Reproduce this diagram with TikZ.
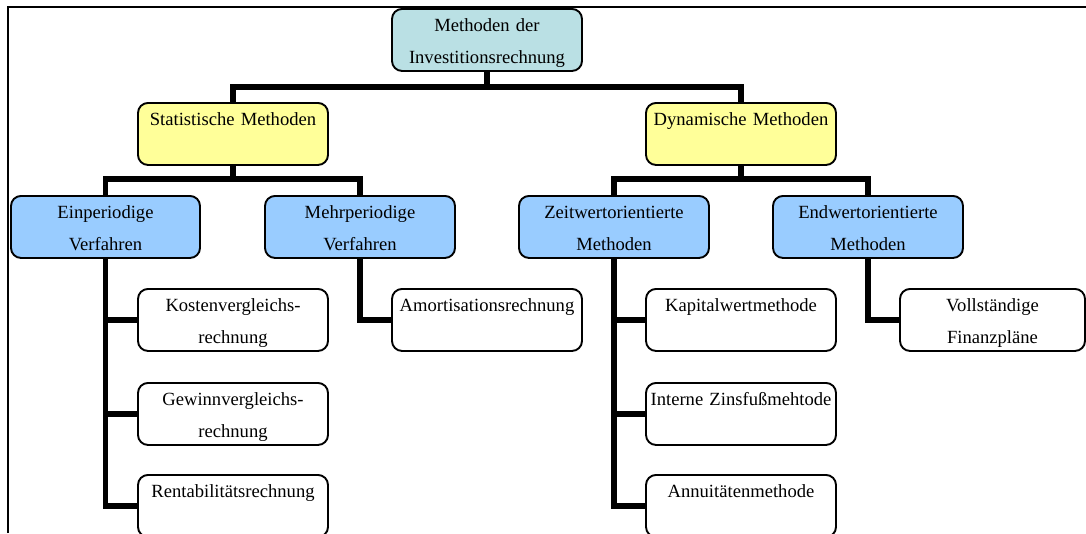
\documentclass[tikz,border=0pt]{standalone}
\usepackage{fontspec}
\setmainfont{Liberation Serif}
\usetikzlibrary{backgrounds}
\definecolor{rootfill}{RGB}{186,224,228}
\definecolor{yel}{RGB}{255,255,153}
\definecolor{blu}{RGB}{153,204,255}
\newcommand{\mystrut}{\rule[-5pt]{0pt}{25pt}}
\begin{document}
\begin{tikzpicture}[x=1pt,y=-1pt,
  box/.style={draw=black, line width=1.9pt, rounded corners=10pt, inner sep=0pt,
    minimum height=62pt, text width=190pt, align=center, anchor=north,
    font=\fontsize{18.6}{32}\selectfont},
  conn/.style={line width=5.8pt, line join=miter},
  frame/.style={line width=1.3pt}]
\useasboundingbox (0,0) rectangle (1086,533);

\node[box, fill=rootfill] (root) at (487,8) {\mystrut Methoden der\\\mystrut Investitionsrechnung};
\node[box, fill=yel] (stat) at (233,102) {\mystrut Statistische Methoden\\\mystrut};
\node[box, fill=yel] (dyn) at (741,102) {\mystrut Dynamische Methoden\\\mystrut};
\node[box, fill=blu, text width=189pt] (ein) at (105.5,195) {\mystrut Einperiodige\\\mystrut Verfahren};
\node[box, fill=blu] (mehr) at (360,195) {\mystrut Mehrperiodige\\\mystrut Verfahren};
\node[box, fill=blu] (zeit) at (614,195) {\mystrut Zeitwertorientierte\\\mystrut Methoden};
\node[box, fill=blu] (endw) at (868,195) {\mystrut Endwertorientierte\\\mystrut Methoden};
\node[box, fill=white] (kost) at (233,288) {\mystrut Kostenvergleichs-\\\mystrut rechnung};
\node[box, fill=white] (gew) at (233,382) {\mystrut Gewinnvergleichs-\\\mystrut rechnung};
\node[box, fill=white] (rent) at (233,474) {\mystrut Rentabilitätsrechnung\\\mystrut};
\node[box, fill=white] (amor) at (487,288) {\mystrut Amortisationsrechnung\\\mystrut};
\node[box, fill=white] (kap) at (741,288) {\mystrut Kapitalwertmethode\\\mystrut};
\node[box, fill=white] (intz) at (741,382) {\mystrut Interne Zinsfußmehtode\\\mystrut};
\node[box, fill=white] (annu) at (741,474) {\mystrut Annuitätenmethode\\\mystrut};
\node[box, fill=white, text width=185pt] (voll) at (992.5,288) {\mystrut Vollständige\\\mystrut Finanzpläne};

\begin{scope}[on background layer]
  \draw[frame] (8,533) -- (8,7) -- (1086,7);
  \coordinate (j1) at (487,87);
  \coordinate (j2) at (233,179);
  \coordinate (j3) at (741,179);
  \draw[conn] (root.south) -- (j1);
  \draw[conn] (stat.north) |- (j1) -| (dyn.north);
  \draw[conn] (stat.south) -- (j2);
  \draw[conn] (ein.north) |- (j2) -| (mehr.north);
  \draw[conn] (dyn.south) -- (j3);
  \draw[conn] (zeit.north) |- (j3) -| (endw.north);
  \draw[conn] (ein.south) |- (kost.west);
  \draw[conn] (ein.south) |- (gew.west);
  \draw[conn] (ein.south) |- (rent.west);
  \draw[conn] (mehr.south) |- (amor.west);
  \draw[conn] (zeit.south) |- (kap.west);
  \draw[conn] (zeit.south) |- (intz.west);
  \draw[conn] (zeit.south) |- (annu.west);
  \draw[conn] (endw.south) |- (voll.west);
\end{scope}
\end{tikzpicture}
\end{document}
